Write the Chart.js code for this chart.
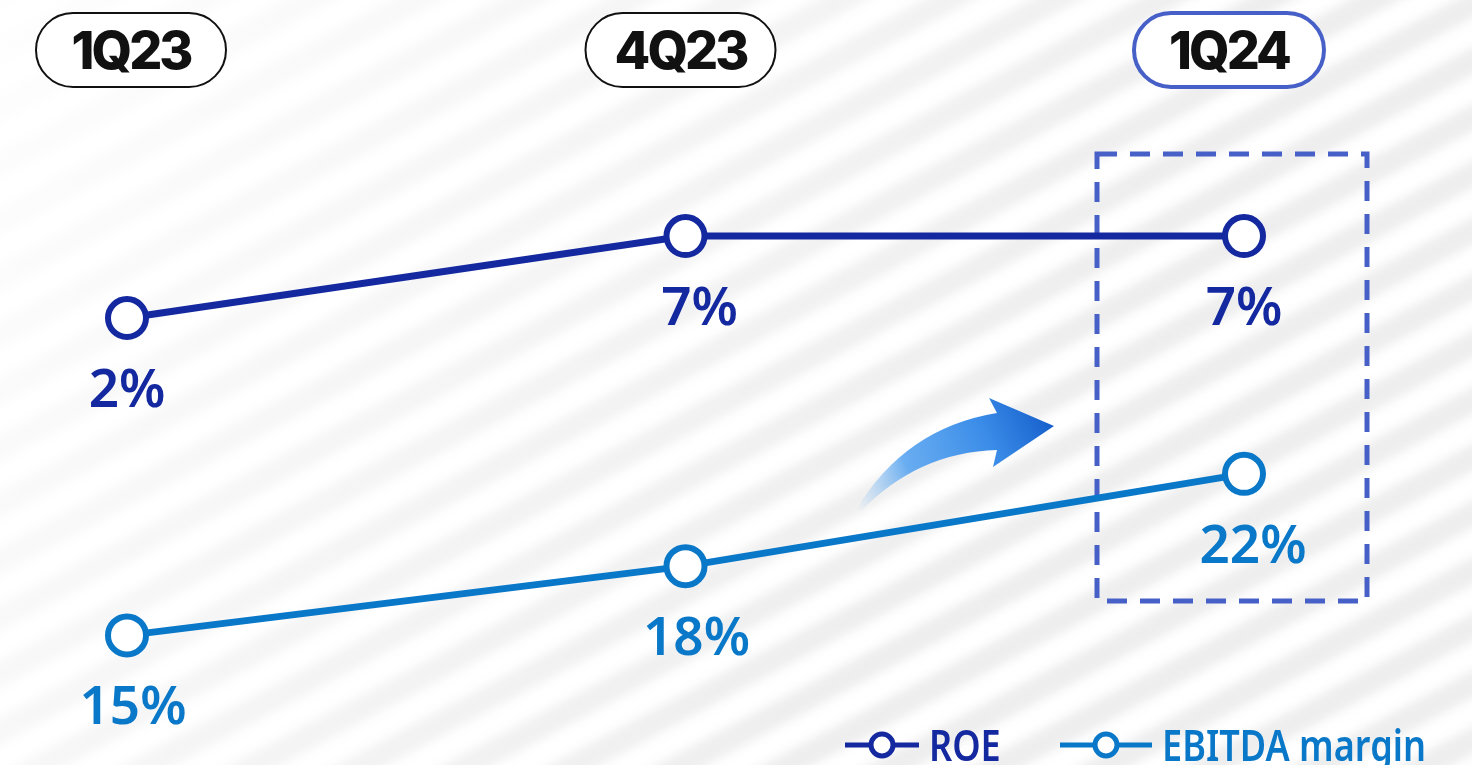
<!DOCTYPE html>
<html>
<head>
<meta charset="utf-8">
<script src="https://cdn.jsdelivr.net/npm/chart.js@4.4.1/dist/chart.umd.min.js"></script>
<style>
  html, body { margin: 0; padding: 0; background: #fff; overflow: hidden; }
  #wrap { width: 1472px; height: 765px; position: relative; }
</style>
</head>
<body>
<div id="wrap"><canvas id="myChart"></canvas></div>
<script>
'use strict';
//chart data
var quarters = ['1Q23', '4Q23', '1Q24'];
var roeValues = [2, 7, 7];
var ebitdaValues = [15, 18, 22];
var seriesNames = ['ROE', 'EBITDA margin'];

var ROE_COLOR = '#1428a0';
var EBITDA_COLOR = '#0a78c8';
var HILITE_COLOR = '#4660c8';

//background, header pills, highlight box and arrow
var backdropPlugin = {
  id: 'backdrop',
  beforeDraw: function(chart){
    var ctx = chart.ctx;
    var w = chart.width, h = chart.height;
    ctx.save();
    ctx.fillStyle = '#ffffff';
    ctx.fillRect(0, 0, w, h);

    //soft diagonal stripes
    ctx.save();
    ctx.filter = 'blur(5px)';
    ctx.translate(w / 2, h / 2);
    ctx.rotate(-28 * Math.PI / 180);
    ctx.fillStyle = '#ececec';
    for(var s = -1400; s < 1400; s += 50){
      ctx.fillRect(-1400, s, 2800, 24);
    }
    ctx.restore();
    //fade the stripes out toward the top left
    var fade = ctx.createLinearGradient(0, 0, 900, 600);
    fade.addColorStop(0, 'rgba(255,255,255,0.95)');
    fade.addColorStop(0.45, 'rgba(255,255,255,0.55)');
    fade.addColorStop(1, 'rgba(255,255,255,0.1)');
    ctx.fillStyle = fade;
    ctx.fillRect(0, 0, w, h);

    //quarter pills
    var x = chart.scales.x;
    var pillShift = [4, -5, -15];
    ctx.font = '800 52px Inter';
    ctx.letterSpacing = '-3px';
    ctx.textAlign = 'center';
    ctx.textBaseline = 'middle';
    for(var i = 0; i < quarters.length; i++){
      var cx = x.getPixelForValue(i) + pillShift[i];
      var last = i === quarters.length - 1;
      ctx.beginPath();
      ctx.roundRect(cx - 95, 13, 190, 74, 37);
      ctx.fillStyle = '#ffffff';
      ctx.fill();
      ctx.lineWidth = last ? 4 : 2;
      ctx.strokeStyle = last ? HILITE_COLOR : '#111111';
      ctx.stroke();
      ctx.fillStyle = '#111111';
      ctx.fillText(quarters[i], cx, 53);
    }
    ctx.letterSpacing = '0px';

    //dashed highlight box
    ctx.setLineDash([20, 13]);
    ctx.lineWidth = 5;
    ctx.strokeStyle = HILITE_COLOR;
    ctx.strokeRect(1097, 154, 270, 447);
    ctx.setLineDash([]);

    //curved arrow
    var grad = ctx.createLinearGradient(857, 510, 1050, 420);
    grad.addColorStop(0, 'rgba(120,185,245,0)');
    grad.addColorStop(0.3, 'rgba(80,160,240,0.85)');
    grad.addColorStop(0.7, '#3a8ce8');
    grad.addColorStop(1, '#1660cc');
    ctx.beginPath();
    ctx.moveTo(856, 510);
    ctx.quadraticCurveTo(905, 428, 997, 413);
    ctx.lineTo(989, 398);
    ctx.lineTo(1054, 426);
    ctx.lineTo(993, 467);
    ctx.lineTo(997, 450);
    ctx.quadraticCurveTo(918, 452, 860, 512);
    ctx.closePath();
    ctx.fillStyle = grad;
    ctx.fill();
    ctx.restore();
  }
};

//value labels and legend
var labelPlugin = {
  id: 'valueLabels',
  afterDatasetsDraw: function(chart){
    var ctx = chart.ctx;
    ctx.save();
    ctx.font = '600 53px "Noto Sans"';
    ctx.textAlign = 'center';
    ctx.textBaseline = 'middle';
    var labelShift = [[0, 14, 0], [6, 11, 9]];
    for(var d = 0; d < chart.data.datasets.length; d++){
      var ds = chart.data.datasets[d];
      var meta = chart.getDatasetMeta(d);
      ctx.fillStyle = ds.borderColor;
      for(var i = 0; i < meta.data.length; i++){
        var pt = meta.data[i];
        ctx.fillText(ds.data[i] + '%', pt.x + labelShift[d][i], pt.y + 74);
      }
    }

    //legend
    var legendItems = [
      {x: 845, len: 74, color: ROE_COLOR, text: seriesNames[0]},
      {x: 1060, len: 92, color: EBITDA_COLOR, text: seriesNames[1]}
    ];
    ctx.textAlign = 'left';
    ctx.textBaseline = 'alphabetic';
    ctx.font = '600 44px "Noto Sans"';
    for(var j = 0; j < legendItems.length; j++){
      var it = legendItems[j];
      ctx.strokeStyle = it.color;
      ctx.lineWidth = 5;
      ctx.beginPath();
      ctx.moveTo(it.x, 745);
      ctx.lineTo(it.x + it.len, 745);
      ctx.stroke();
      ctx.beginPath();
      ctx.arc(it.x + it.len / 2, 745, 11, 0, Math.PI * 2);
      ctx.fillStyle = '#ffffff';
      ctx.fill();
      ctx.stroke();
      ctx.save();
      ctx.translate(it.x + it.len + 10, 761);
      ctx.scale(0.82, 1);
      ctx.fillStyle = it.color;
      ctx.fillText(it.text, 0, 0);
      ctx.restore();
    }
    ctx.restore();
  }
};

var ctx = document.getElementById('myChart').getContext('2d');

new Chart(ctx, {
  type: 'line',
  data: {
    labels: quarters,
    datasets: [
      {
        label: seriesNames[0],
        data: roeValues,
        yAxisID: 'yRoe',
        borderColor: ROE_COLOR,
        borderWidth: 7,
        pointRadius: 19,
        pointBorderWidth: 6,
        pointBackgroundColor: '#ffffff',
        pointBorderColor: ROE_COLOR,
        tension: 0,
        clip: false
      },
      {
        label: seriesNames[1],
        data: ebitdaValues,
        yAxisID: 'yEbitda',
        borderColor: EBITDA_COLOR,
        borderWidth: 7,
        pointRadius: 19,
        pointBorderWidth: 6,
        pointBackgroundColor: '#ffffff',
        pointBorderColor: EBITDA_COLOR,
        tension: 0,
        clip: false
      }
    ]
  },
  options: {
    responsive: true,
    maintainAspectRatio: false,
    animation: false,
    layout: {
      padding: {left: 127, right: 228, top: 100, bottom: 65}
    },
    scales: {
      x: {type: 'category', display: false, offset: false},
      yRoe: {type: 'linear', display: false, min: -21.3, max: 15.3},
      yEbitda: {type: 'linear', display: false, min: 12.2, max: 38.2}
    },
    plugins: {
      legend: {display: false},
      tooltip: {enabled: false}
    }
  },
  plugins: [backdropPlugin, labelPlugin]
});
</script>
</body>
</html>
